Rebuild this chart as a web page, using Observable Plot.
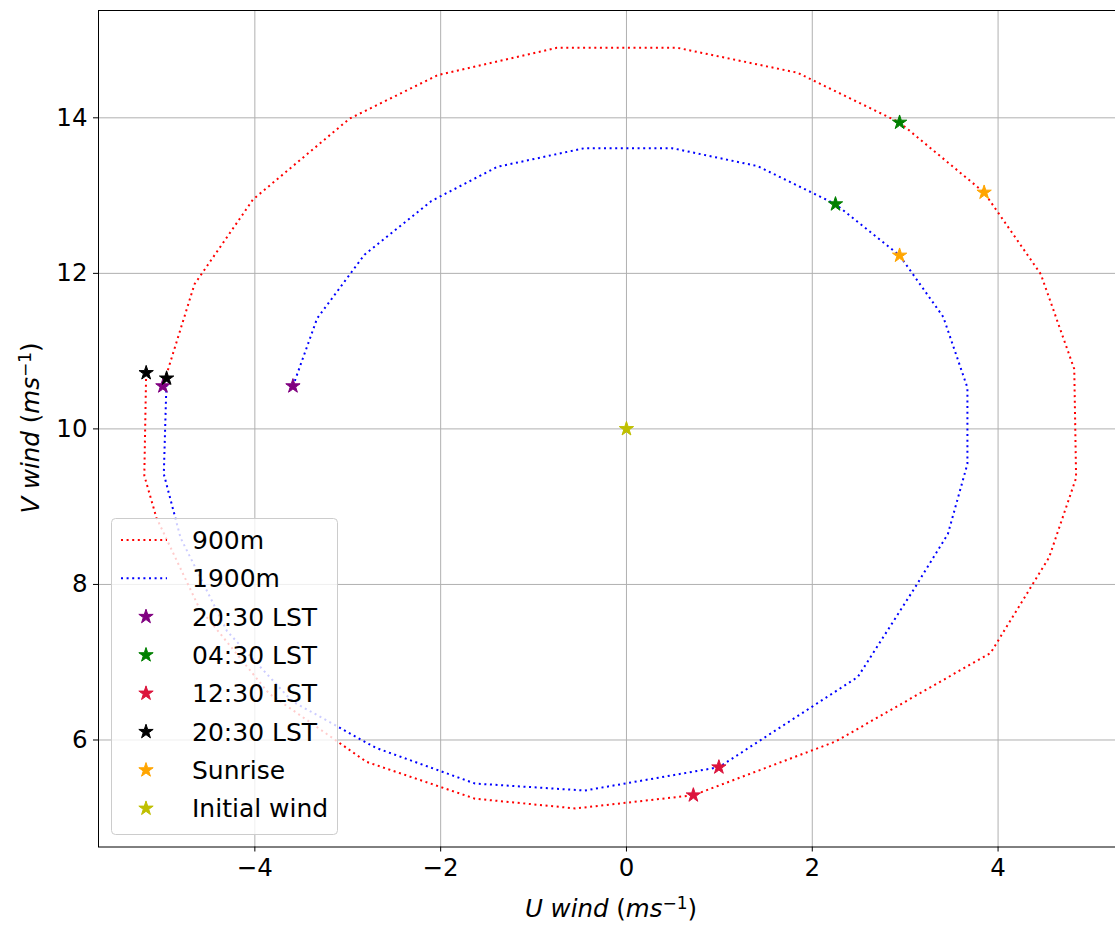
<!DOCTYPE html>
<html>
<head>
<meta charset="utf-8">
<script src="https://cdn.jsdelivr.net/npm/d3@7"></script>
<script src="https://cdn.jsdelivr.net/npm/@observablehq/plot@0.6"></script>
<style>
  html, body { margin: 0; padding: 0; background: white; }
  #chart { width: 1115px; height: 928px; }
</style>
</head>
<body>
<div id="chart"></div>
<script>
// 900 m hodograph (hourly, 20:30 LST -> 20:30 LST)
const redU = [-4.99,-4.65,-4.02,-2.98,-2.03,-0.75,0.55,1.84,2.94,3.85,4.46,4.82,4.84,4.55,3.92,2.25,0.72,-0.55,-1.63,-2.8,-3.85,-4.6,-5.06,-5.19,-5.17];
const redV = [10.55,11.86,12.95,13.99,14.55,14.9,14.9,14.58,13.94,13.04,11.99,10.77,9.37,8.35,7.12,5.98,5.29,5.12,5.245,5.72,6.6,7.7,8.86,9.4,10.72];
// 1900 m hodograph
const blueU = [-3.59,-3.33,-2.82,-2.1,-1.39,-0.45,0.49,1.41,2.25,2.94,3.41,3.67,3.67,3.46,3.1,2.49,0.995,-0.45,-1.63,-2.7,-3.6,-4.3,-4.8,-4.98,-4.95];
const blueV = [10.55,11.42,12.24,12.93,13.37,13.61,13.61,13.38,12.89,12.23,11.44,10.53,9.55,8.65,7.95,6.81,5.65,5.35,5.44,5.9,6.5,7.4,8.6,9.42,10.65];

const lineLabels = ["900m", "1900m"];
const lineColors = ["red", "blue"];

// marker stars
const starLabels = ["20:30 LST", "04:30 LST", "12:30 LST", "20:30 LST", "Sunrise", "Initial wind"];
const starColors = ["#800080", "#008000", "#DC143C", "#000000", "#FFA500", "#BFBF00"];
const star900U  = [-4.99, 2.94, 0.72, -5.17, 3.85];
const star900V  = [10.55, 13.94, 5.29, 10.72, 13.04];
const star1900U = [-3.59, 2.25, 0.995, -4.95, 2.94];
const star1900V = [10.55, 12.89, 5.65, 10.65, 12.23];
const initialU = [0];
const initialV = [10];

const xTicks = [-4, -2, 0, 2, 4];
const yTicks = [6, 8, 10, 12, 14];
const xDomain = [-5.683, 5.264];
const yDomain = [4.624, 15.38];

// build tables
const lines = [];
redU.forEach((u, i) => lines.push({u, v: redV[i], s: lineLabels[0]}));
blueU.forEach((u, i) => lines.push({u, v: blueV[i], s: lineLabels[1]}));

const stars = [];
for (let k = 0; k < 5; k++) {
  stars.push({u: star900U[k], v: star900V[k], c: starColors[k]});
  stars.push({u: star1900U[k], v: star1900V[k], c: starColors[k]});
}
stars.push({u: initialU[0], v: initialV[0], c: starColors[5]});
const order = starColors;
stars.sort((a, b) => order.indexOf(a.c) - order.indexOf(b.c));

const fmt = d => d < 0 ? "\u2212" + (-d) : String(d);
const DASH = "2,3.6";
const FS = 24.5;

const plot = Plot.plot({
  width: 1115,
  height: 928,
  marginLeft: 98,
  marginTop: 10,
  marginRight: 0,
  marginBottom: 81.5,
  style: {fontFamily: "DejaVu Sans", fontSize: FS + "px", background: "white", color: "black"},
  x: {domain: xDomain},
  y: {domain: yDomain},
  marks: [
    Plot.gridX(xTicks, {stroke: "#b0b0b0", strokeOpacity: 1, strokeWidth: 1}),
    Plot.gridY(yTicks, {stroke: "#b0b0b0", strokeOpacity: 1, strokeWidth: 1}),
    Plot.line(lines, {x: "u", y: "v", z: "s",
      stroke: d => lineColors[lineLabels.indexOf(d.s)],
      strokeWidth: 2, strokeDasharray: DASH, strokeLinecap: "butt", strokeLinejoin: "miter"}),
    Plot.dot(stars, {x: "u", y: "v", symbol: "star", r: 4.5, fill: "c", stroke: "c", strokeWidth: 1}),
    Plot.frame({stroke: "black", strokeWidth: 1}),
    Plot.axisX({ticks: xTicks, tickFormat: fmt, tickSize: 5, tickPadding: 7, fontSize: FS, label: null}),
    Plot.axisY({ticks: yTicks, tickFormat: fmt, tickSize: 5, tickPadding: 6, fontSize: FS, label: null})
  ]
});
document.getElementById("chart").appendChild(plot);

const svg = d3.select(plot);

// axis labels (mathtext style)
function mathLabel(g, letters) {
  const t = g.append("text")
    .attr("text-anchor", "middle")
    .attr("font-family", "DejaVu Sans")
    .attr("font-size", 24.5)
    .attr("fill", "black");
  t.append("tspan").attr("font-style", "italic").text(letters + " wind ");
  t.append("tspan").text("(");
  t.append("tspan").attr("font-style", "italic").text("ms");
  t.append("tspan").attr("font-size", 17).attr("dy", "-0.5em").text("\u22121");
  t.append("tspan").attr("dy", "0.36em").text(")");
  return t;
}
mathLabel(svg.append("g").attr("transform", "translate(611,917)"), "U");
mathLabel(svg.append("g").attr("transform", "translate(39,428) rotate(-90)"), "V");

// legend
const lg = svg.append("g").attr("text-anchor", "start");
lg.append("rect")
  .attr("x", 111.5).attr("y", 518.5).attr("width", 226).attr("height", 316)
  .attr("rx", 4).attr("fill", "white").attr("fill-opacity", 0.8)
  .attr("stroke", "#cccccc").attr("stroke-width", 1);
const items = [
  ...lineLabels.map((l, i) => ({type: "line", label: l, color: lineColors[i]})),
  ...starLabels.map((l, i) => ({type: "star", label: l, color: starColors[i]}))
];
const y0 = 540, dy = 38.35;
const starPath = d3.symbol(d3.symbolStar, Math.PI * 4.5 * 4.5)();
items.forEach((it, i) => {
  const y = y0 + i * dy;
  if (it.type === "line") {
    lg.append("line").attr("x1", 121).attr("x2", 167).attr("y1", y).attr("y2", y)
      .attr("stroke", it.color).attr("stroke-width", 2).attr("stroke-dasharray", DASH);
  } else {
    lg.append("path").attr("d", starPath).attr("transform", `translate(146,${y})`)
      .attr("fill", it.color).attr("stroke", it.color).attr("stroke-width", 1);
  }
  lg.append("text").attr("x", 192).attr("y", y).attr("dy", "0.36em")
    .attr("text-anchor", "start")
    .attr("font-family", "DejaVu Sans").attr("font-size", 25).attr("fill", "black")
    .text(it.label);
});
</script>
</body>
</html>
